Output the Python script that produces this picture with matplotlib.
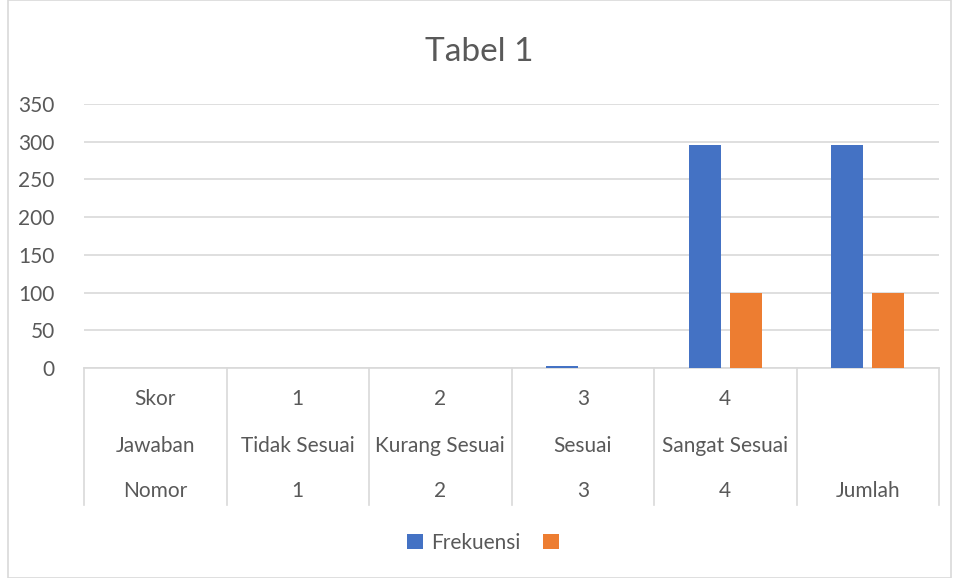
import matplotlib.pyplot as plt
import matplotlib.patches as mpatches
import numpy as np

plt.rcParams['font.family'] = ['Lato', 'DejaVu Sans']

# data
skor = ["Skor", "1", "2", "3", "4", ""]
jawaban = ["Jawaban", "Tidak Sesuai", "Kurang Sesuai", "Sesuai", "Sangat Sesuai", ""]
nomor = ["Nomor", "1", "2", "3", "4", "Jumlah"]
frekuensi = [0, 0, 0, 2, 295, 295]
persen = [0, 0, 0, 0, 100, 100]

W, H = 959, 578
fig = plt.figure(figsize=(W / 100, H / 100), dpi=100)
ax = fig.add_axes([84 / W, 1 - 368 / H, (939 - 84) / W, (368 - 104) / H])

txt = '#595959'
grid = '#d9d9d9'
blue = '#4472c4'
orange = '#ed7d31'

x = np.arange(len(nomor))
bw = 0.225
gap = 0.03
ax.bar(x - bw / 2 - gap, frekuensi, bw, color=blue, label='Frekuensi', zorder=3)
ax.bar(x + bw / 2 + gap, persen, bw, color=orange, label=' ', zorder=3)

ax.set_xlim(-0.5, len(nomor) - 0.5)
ax.set_ylim(0, 350)
ax.set_yticks(np.arange(0, 351, 50))
ax.yaxis.grid(True, color=grid, linewidth=1.2, zorder=0)
ax.set_axisbelow(True)
ax.tick_params(axis='y', length=0, labelsize=15, labelcolor=txt, pad=21)
ax.set_xticks([])
for s in ['top', 'right', 'left']:
    ax.spines[s].set_visible(False)
ax.spines['bottom'].set_color(grid)
ax.spines['bottom'].set_linewidth(1.2)

# multi-level category table under the axis
tr = ax.get_xaxis_transform()
tab_bottom = -(505 - 368) / (368 - 104)
for b in np.arange(-0.5, len(nomor), 1.0):
    ax.plot([b, b], [0, tab_bottom], transform=tr, color=grid, lw=1.2, clip_on=False)
rows = [(skor, 399), (jawaban, 446), (nomor, 491)]
for labels, ypx in rows:
    yy = -(ypx - 368) / (368 - 104)
    for i, lab in enumerate(labels):
        ax.text(i, yy, lab, transform=tr, ha='center', va='center', fontsize=15, color=txt)

fig.suptitle('Tabel 1', y=1 - 52 / H, va='center', fontsize=24, color=txt)

leg = fig.legend(loc='center', bbox_to_anchor=(490 / W, 1 - 543 / H), ncol=2, frameon=False,
                 fontsize=15, handlelength=0.75, handleheight=0.75, columnspacing=1.1,
                 handletextpad=0.4)
for t in leg.get_texts():
    t.set_color(txt)

# chart border
fig.patches.append(mpatches.Rectangle((8 / W, 0), 1 - 16 / W, 1, transform=fig.transFigure,
                                      fill=False, edgecolor=grid, lw=1.2))

fig.savefig('out.png', dpi=100)
